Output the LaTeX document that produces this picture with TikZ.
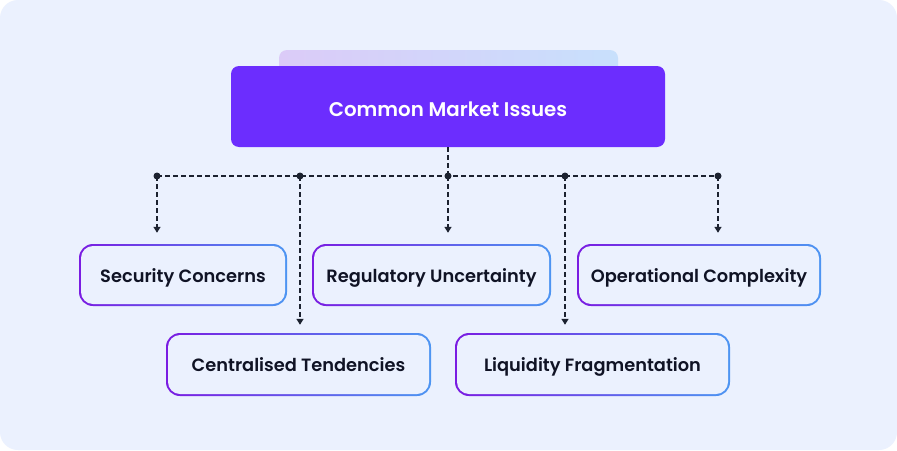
\documentclass[tikz,border=0pt]{standalone}
\usepackage{fontspec}
\setmainfont{Poppins}
\newfontfamily\popsb{Poppins SemiBold}
\usetikzlibrary{arrows.meta,calc}
\definecolor{bgc}{HTML}{EBF1FE}
\definecolor{mainc}{HTML}{6C2DFE}
\definecolor{bpur}{HTML}{7A1CE2}
\definecolor{bblu}{HTML}{4D95F2}
\definecolor{txt}{HTML}{101325}
\definecolor{lnc}{HTML}{1C2230}
\definecolor{gpur}{HTML}{DBCBF8}
\definecolor{gblu}{HTML}{C8E0FC}
\tikzset{
  box/.style={rounded corners=14pt, minimum height=62pt, inner sep=0pt,
    left color=bpur, right color=bblu,
    path picture={\fill[bgc, rounded corners=12pt]
      ([shift={(2pt,-2pt)}]path picture bounding box.north west) rectangle
      ([shift={(-2pt,2pt)}]path picture bounding box.south east);},
    font=\popsb\fontsize{17.8}{21}\selectfont, text=txt,
    text height=14.6pt, text depth=0pt},
  mainbox/.style={rounded corners=8pt, fill=mainc, minimum width=434pt, minimum height=81pt,
    inner sep=0pt, font=\popsb\fontsize{19.8}{24}\selectfont, text=white,
    text height=19pt, text depth=0pt},
  dline/.style={lnc, line width=1.4pt, dash pattern=on 5pt off 3pt},
  arr/.style={dline, -{Triangle[length=6pt,width=7pt]}},
  dot/.style={fill=lnc}
}
\begin{document}
\begin{tikzpicture}[x=1pt,y=-1pt]
\fill[white] (0,0) rectangle (897,450);
\useasboundingbox (0,0) rectangle (897,450);
\fill[bgc, rounded corners=18pt] (0,0) rectangle (897,450);
% back gradient tab
\shade[left color=gpur, right color=gblu, rounded corners=8pt] (279,50) rectangle (618,90);
% main node
\node[mainbox] (m) at (448,106.5) {Common Market Issues};
% boxes
\node[box, minimum width=208pt] (sec) at (183,275) {Security Concerns};
\node[box, minimum width=239pt] (reg) at (431.5,275) {Regulatory Uncertainty};
\node[box, minimum width=244pt] (ope) at (699,275) {Operational Complexity};
\node[box, minimum width=265pt, minimum height=63pt] (cen) at (298.5,364.5) {Centralised Tendencies};
\node[box, minimum width=275pt, minimum height=63pt] (liq) at (592.5,364.5) {Liquidity Fragmentation};
% junctions
\coordinate (j1) at (157,176);
\coordinate (j2) at (300,176);
\coordinate (j3) at (448,176);
\coordinate (j4) at (565,176);
\coordinate (j5) at (718,176);
\draw[dline] (j1) -- (j5);
\draw[dline] (m.south) -- (j3);
\draw[arr, shorten >=11pt] (j1) -- (j1 |- sec.north);
\draw[arr, shorten >=11pt] (j3) -- (j3 |- reg.north);
\draw[arr, shorten >=11pt] (j5) -- (j5 |- ope.north);
\draw[arr, shorten >=8pt] (j2) -- (j2 |- cen.north);
\draw[arr, shorten >=8pt] (j4) -- (j4 |- liq.north);
\foreach \j in {j1,j2,j3,j4,j5} \fill[dot] (\j) circle (3.5pt);
\end{tikzpicture}
\end{document}
